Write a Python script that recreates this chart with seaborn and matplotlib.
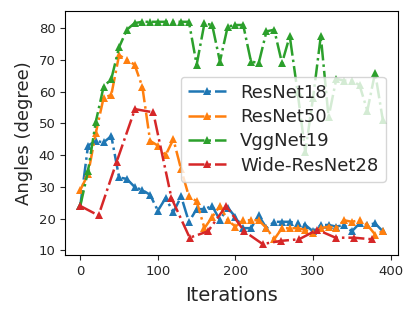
import matplotlib
matplotlib.use("Agg")
import matplotlib.pyplot as plt
import seaborn as sns

# iterations sampled every 10 for the ResNet/VGG runs
iters = [0, 10, 20, 30, 40, 50, 60, 70, 80, 90, 100, 110, 120, 130, 140, 150, 160, 170, 180, 190,
         200, 210, 220, 230, 240, 250, 260, 270, 280, 290, 300, 310, 320, 330, 340, 350, 360, 370, 380, 390]

resnet18 = [24, 43, 44.5, 44, 46, 33, 32.5, 30, 29, 27.5, 22.5, 26.5, 22, 27, 19, 23, 23, 24, 19.5, 23.5,
            20.5, 17, 17, 21, 17, 19, 19, 19, 18.5, 18, 16, 18, 18, 17.5, 18, 16, 18.5, 18, 18.5, 16]
resnet50 = [29, 34, 47, 58, 59, 71.5, 70, 68.5, 61.5, 44.5, 43, 40, 45, 35.5, 27, 25.5, 17, 20.5, 24, 19.5,
            17.5, 19.5, 19.5, 19.5, 17, 13.5, 17, 17, 17, 16.5, 15.5, 17, 17.5, 17, 19.5, 19, 19.5, 18, 15, 16]
vggnet19 = [24, 35, 50.5, 61.5, 64, 74, 79.5, 81.6, 82, 82, 82, 82, 82, 82, 82, 68.5, 81.5, 81, 69.5, 80.5,
            81, 81, 69.5, 69, 79, 79.5, 69, 77.5, 60, 41, 58, 77.5, 52, 64, 63.5, 63.5, 62, 54, 66, 51]

# the wide resnet run was logged less often
wide_iters = [0, 23.5, 47, 70.5, 94, 117.5, 141, 164.5, 188, 211.5, 235, 258.5, 282, 305.5, 329, 352.5, 376]
wide_resnet28 = [24, 21, 38, 54.5, 53.5, 26.5, 14, 16, 24, 16, 12, 13, 13.5, 16.5, 14, 14, 13.5]

sns.set_style("ticks", {"axes.edgecolor": "black"})
plt.rcParams['font.family'] = ['DejaVu Sans']

fig, ax = plt.subplots(figsize=(4.15, 3.15), dpi=100)
fig.subplots_adjust(left=0.157, right=0.959, bottom=0.19, top=0.966)

series = [
    (iters, resnet18, 'ResNet18', '#1f77b4'),
    (iters, resnet50, 'ResNet50', '#ff7f0e'),
    (iters, vggnet19, 'VggNet19', '#2ca02c'),
    (wide_iters, wide_resnet28, 'Wide-ResNet28', '#d62728'),
]
for xs, ys, name, col in series:
    sns.lineplot(x=xs, y=ys, ax=ax, color=col, marker='^', markersize=6,
                 markeredgewidth=0, linestyle='-.', linewidth=1.8, label=name)

ax.set_xticks([0, 100, 200, 300, 400])
ax.set_yticks([10, 20, 30, 40, 50, 60, 70, 80])
ax.tick_params(labelsize=9.5)
ax.set_xlabel('Iterations', fontsize=14, labelpad=6)
ax.set_ylabel('Angles (degree)', fontsize=13)

ax.legend(loc='center right', bbox_to_anchor=(0.963, 0.515), borderaxespad=0,
          fontsize=13, framealpha=0.8, labelspacing=0.35, handlelength=2.1)

plt.savefig('out.png', dpi=100)
